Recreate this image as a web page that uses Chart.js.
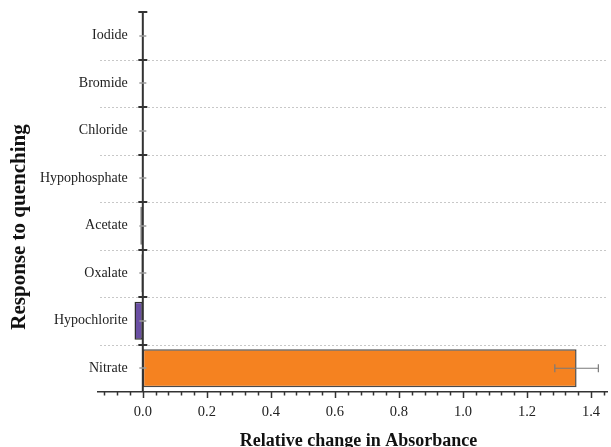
<!DOCTYPE html>
<html>
<head>
<meta charset="utf-8">
<script src="https://cdn.jsdelivr.net/npm/chart.js@4"></script>
<style>
  html, body { margin: 0; padding: 0; background: #fff; }
  canvas { display: block; }
</style>
</head>
<body>
<canvas id="c" width="611" height="447"></canvas>
<script>
const categories = ['Iodide', 'Bromide', 'Chloride', 'Hypophosphate', 'Acetate', 'Oxalate', 'Hypochlorite', 'Nitrate'];
const values = [0, 0, 0, -0.002, -0.008, -0.004, -0.026, 1.355];
const errors = [0, 0, 0, 0, 0, 0, 0, 0.068];
const fillColors = ['#ffffff', '#ffffff', '#ffffff', '#333333', '#f2f2f2', '#111111', '#6a4fa3', '#f58220'];
const edgeColors = ['#333333', '#333333', '#333333', '#333333', '#808080', '#111111', '#2e2e2e', '#4a4a4a'];
const xMajorLabels = ['0.0', '0.2', '0.4', '0.6', '0.8', '1.0', '1.2', '1.4'];
const xTitle = 'Relative change in Absorbance';
const yTitle = 'Response to quenching';

const SERIF = '"Liberation Serif", "DejaVu Serif", serif';

const decorPlugin = {
  id: 'decor',
  beforeDatasetsDraw(chart) {
    const {ctx, chartArea, scales: {x, y}} = chart;
    ctx.save();
    ctx.strokeStyle = '#c8c8c8';
    ctx.lineWidth = 1;
    ctx.setLineDash([2, 2]);
    for (let i = 0; i < categories.length - 1; i++) {
      const py = Math.round((y.getPixelForValue(i) + y.getPixelForValue(i + 1)) / 2) + 0.5;
      ctx.beginPath();
      ctx.moveTo(chartArea.left + 2, py);
      ctx.lineTo(chartArea.right, py);
      ctx.stroke();
    }
    ctx.restore();
  },
  afterDatasetsDraw(chart) {
    const {ctx, chartArea, scales: {x, y}} = chart;
    ctx.save();
    // error bars
    ctx.strokeStyle = '#7a7a7a';
    ctx.lineWidth = 1.2;
    for (let i = 0; i < values.length; i++) {
      if (!errors[i]) continue;
      const py = y.getPixelForValue(i);
      const x1 = x.getPixelForValue(values[i] - errors[i]);
      const x2 = x.getPixelForValue(values[i] + errors[i]);
      ctx.beginPath();
      ctx.moveTo(x1, py); ctx.lineTo(x2, py);
      ctx.moveTo(x1, py - 4); ctx.lineTo(x1, py + 4);
      ctx.moveTo(x2, py - 4); ctx.lineTo(x2, py + 4);
      ctx.stroke();
    }
    // y axis line at x = 0
    const x0 = x.getPixelForValue(0);
    const half = (y.getPixelForValue(1) - y.getPixelForValue(0)) / 2;
    ctx.strokeStyle = '#333';
    ctx.lineWidth = 2;
    ctx.beginPath();
    ctx.moveTo(x0, chartArea.top);
    ctx.lineTo(x0, chartArea.bottom);
    ctx.stroke();
    // major ticks at category boundaries
    for (let i = 0; i < categories.length; i++) {
      const py = Math.round(y.getPixelForValue(i) - half);
      ctx.beginPath();
      ctx.moveTo(x0 - 4.5, py);
      ctx.lineTo(x0 + 4.5, py);
      ctx.stroke();
    }
    // minor ticks at category centres
    ctx.strokeStyle = '#9a9a9a';
    ctx.lineWidth = 1.5;
    for (let i = 0; i < categories.length; i++) {
      const py = Math.round(y.getPixelForValue(i));
      ctx.beginPath();
      ctx.moveTo(x0 - 3.5, py);
      ctx.lineTo(x0 + 3.5, py);
      ctx.stroke();
    }
    // x axis ticks
    ctx.strokeStyle = '#333';
    ctx.lineWidth = 1.5;
    for (let k = -3; k <= 36; k++) {
      const v = k * 0.04;
      const px = Math.round(x.getPixelForValue(v)) + 0.5;
      const major = k % 5 === 0;
      ctx.beginPath();
      ctx.moveTo(px, chartArea.bottom);
      ctx.lineTo(px, chartArea.bottom + (major ? 6 : 3.5));
      ctx.stroke();
    }
    // category labels
    ctx.fillStyle = '#222';
    ctx.font = '14px ' + SERIF;
    ctx.textAlign = 'right';
    ctx.textBaseline = 'middle';
    for (let i = 0; i < categories.length; i++) {
      ctx.fillText(categories[i], x0 - 15, y.getPixelForValue(i));
    }
    // x title
    ctx.font = 'bold 18px ' + SERIF;
    ctx.fillStyle = '#111';
    ctx.textAlign = 'center';
    ctx.textBaseline = 'alphabetic';
    ctx.fillText(xTitle, (chartArea.left + chartArea.right) / 2 + 6, 446);
    // y title
    ctx.font = 'bold 21px ' + SERIF;
    ctx.textBaseline = 'middle';
    ctx.translate(20, 227);
    ctx.rotate(-Math.PI / 2);
    ctx.fillText(yTitle, 0, 0);
    ctx.restore();
  }
};

new Chart(document.getElementById('c'), {
  type: 'bar',
  data: {
    labels: categories,
    datasets: [{
      data: values,
      backgroundColor: fillColors,
      borderColor: edgeColors,
      borderWidth: 1.5,
      borderSkipped: false,
      categoryPercentage: 1.0,
      barPercentage: 0.8
    }]
  },
  options: {
    indexAxis: 'y',
    responsive: false,
    animation: false,
    layout: { padding: { left: 98, right: 4, top: 12, bottom: 0 } },
    plugins: { legend: { display: false }, tooltip: { enabled: false } },
    scales: {
      y: { display: false, offset: true },
      x: {
        type: 'linear',
        min: -0.14,
        max: 1.45,
        grid: { display: false, drawTicks: false },
        border: { display: true, color: '#333', width: 1.5 },
        ticks: {
          stepSize: 0.04,
          autoSkip: false,
          maxRotation: 0,
          padding: 11,
          color: '#222',
          font: { family: SERIF, size: 14.5 },
          callback: function (value) {
            const r = value / 0.2;
            const n = Math.round(r);
            if (Math.abs(r - n) < 1e-6 && n >= 0 && n < xMajorLabels.length) return xMajorLabels[n];
            return '';
          }
        },
        title: { display: false },
        afterFit(scale) {
          scale.height = 55;
          scale.paddingLeft = 0;
          scale.paddingRight = 0;
        }
      }
    }
  },
  plugins: [decorPlugin]
});
</script>
</body>
</html>
